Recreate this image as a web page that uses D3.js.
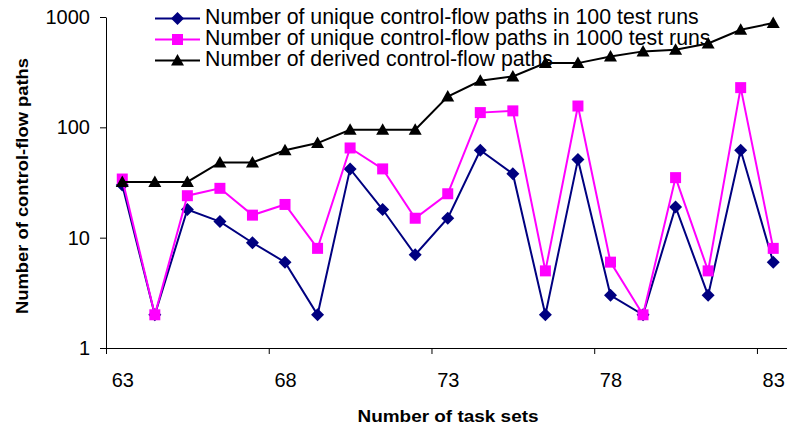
<!DOCTYPE html>
<html>
<head>
    <title>control-flow paths</title>
    <style>
        body { margin: 0; background: #fff; }
        text { font-family: Arial, "Liberation Sans", sans-serif; }
    </style>
</head>
<body>
<script src="https://d3js.org/d3.v7.min.js"></script>
<script>
    var width = 787,
        height = 425;

    // task set numbers (x categories)
    var taskSets = [63, 64, 65, 66, 67, 68, 69, 70, 71, 72, 73, 74, 75, 76, 77, 78, 79, 80, 81, 82, 83];
    var runs100 = [30, 2, 18, 14, 9, 6, 2, 42, 18, 7, 15, 62, 38, 2, 51, 3, 2, 19, 3, 62, 6];
    var runs1000 = [34, 2, 24, 28, 16, 20, 8, 65, 42, 15, 25, 136, 141, 5, 156, 6, 2, 35, 5, 229, 8];
    var derived = [32, 32, 32, 48, 48, 62, 72, 95, 95, 95, 190, 264, 289, 382, 382, 439, 488, 505, 576, 767, 882];
    var xTickLabels = [63, 68, 73, 78, 83];
    var yTickValues = [1, 10, 100, 1000];
    var seriesNames = [
        'Number of unique control-flow paths in 100 test runs',
        'Number of unique control-flow paths in 1000 test runs',
        'Number of derived control-flow paths'
    ];

    // plot box (window.top is reserved, so no bare "top")
    var plotLeft = 106, plotRight = 789.5, plotTop = 17, plotBottom = 348;

    var x = d3.scaleLinear().domain([62.5, 83.5]).range([plotLeft, plotRight]);
    var y = d3.scaleLog().domain([1, 1000]).range([plotBottom, plotTop]);

    var svg = d3.select('body').append('svg')
        .attr('width', width)
        .attr('height', height);

    // marker shapes
    var diamond = 'M0,-6.5L6.5,0L0,6.5L-6.5,0Z',
        square = 'M-5.5,-5.5H5.5V5.5H-5.5Z',
        triangle = 'M0,-6.5L6.5,5L-6.5,5Z';

    var series = [
        { name: seriesNames[0], values: runs100, color: '#000080', marker: diamond },
        { name: seriesNames[1], values: runs1000, color: '#ff00ff', marker: square },
        { name: seriesNames[2], values: derived, color: '#000000', marker: triangle }
    ];

    // axes
    var yAxis = svg.append('g')
        .attr('transform', 'translate(' + plotLeft + ',0)')
        .call(d3.axisLeft(y).tickValues(yTickValues).tickFormat(d3.format('d')).tickSize(6).tickPadding(10).tickSizeOuter(0));
    yAxis.selectAll('text').style('font-size', '20px').attr('fill', '#000');

    svg.append('g')
        .attr('transform', 'translate(0,' + plotBottom + ')')
        .call(d3.axisBottom(x).tickValues([62.5, 67.5, 72.5, 77.5, 82.5]).tickFormat('').tickSize(6).tickSizeOuter(0));
    var xLabels = svg.append('g')
        .attr('transform', 'translate(0,' + plotBottom + ')')
        .call(d3.axisBottom(x).tickValues(xTickLabels).tickSize(0).tickPadding(25).tickSizeOuter(0));
    xLabels.select('.domain').remove();
    xLabels.selectAll('text').style('font-size', '20px').attr('fill', '#000');
    svg.selectAll('.domain, .tick line').attr('stroke', '#000');

    // axis titles
    svg.append('text')
        .attr('x', 448).attr('y', 421.5)
        .attr('text-anchor', 'middle')
        .attr('textLength', 181).attr('lengthAdjust', 'spacingAndGlyphs')
        .style('font-size', '17px').style('font-weight', 'bold')
        .text('Number of task sets');

    svg.append('text')
        .attr('transform', 'translate(28,186) rotate(-90)')
        .attr('text-anchor', 'middle')
        .attr('textLength', 256).attr('lengthAdjust', 'spacingAndGlyphs')
        .style('font-size', '16.5px').style('font-weight', 'bold')
        .text('Number of control-flow paths');

    // legend
    var legend = svg.append('g');
    series.forEach(function (s, i) {
        var ly = 18.5 + i * 21;
        legend.append('line')
            .attr('x1', 155).attr('x2', 200).attr('y1', ly).attr('y2', ly)
            .attr('stroke', s.color).attr('stroke-width', 1.8);
        legend.append('path')
            .attr('d', s.marker)
            .attr('transform', 'translate(177.5,' + ly + ')')
            .attr('fill', s.color);
        legend.append('text')
            .attr('x', 205).attr('y', ly + 5.3)
            .style('font-size', '21.3px')
            .attr('fill', '#000')
            .text(s.name);
    });

    // lines and markers
    var line = d3.line()
        .x(function (d, i) { return x(taskSets[i]); })
        .y(function (d) { return y(d); });

    series.forEach(function (s) {
        svg.append('path')
            .datum(s.values)
            .attr('d', line)
            .attr('fill', 'none')
            .attr('stroke', s.color)
            .attr('stroke-width', 2);
        svg.selectAll(null)
            .data(s.values)
            .enter().append('path')
            .attr('d', s.marker)
            .attr('transform', function (d, i) {
                return 'translate(' + x(taskSets[i]) + ',' + y(d) + ')';
            })
            .attr('fill', s.color);
    });
</script>
</body>
</html>
